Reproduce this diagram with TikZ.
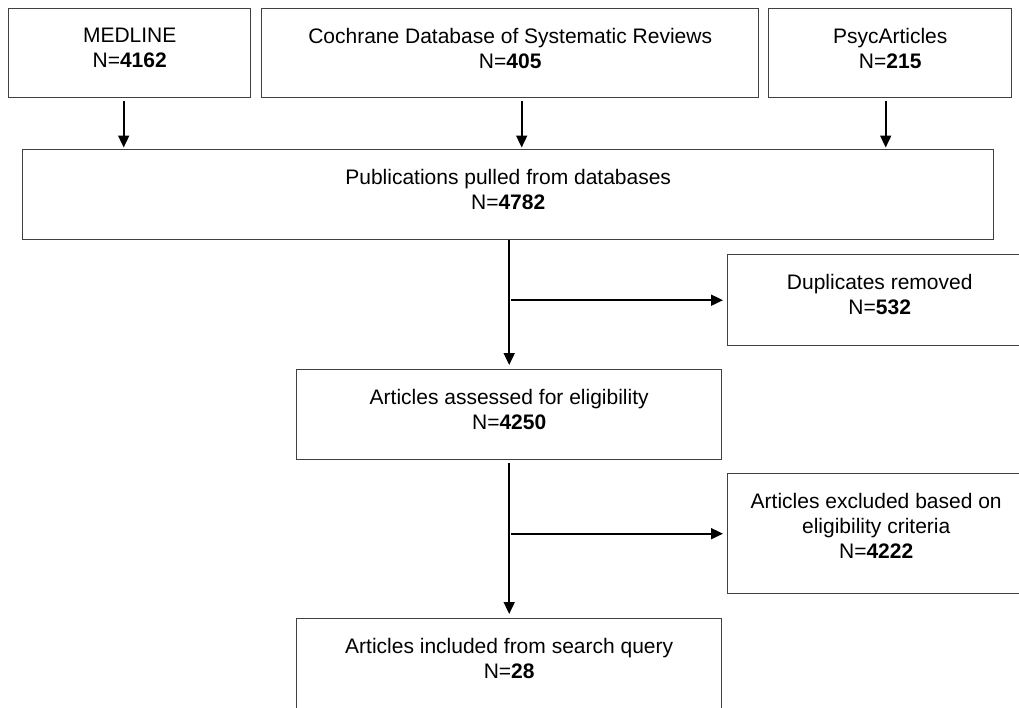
\documentclass[tikz,border=0pt]{standalone}
\usepackage{fontspec}
\setmainfont{Liberation Sans}
\usetikzlibrary{arrows.meta}
\begin{document}
\begin{tikzpicture}[x=1pt,y=-1pt,
  box/.style={draw=black!75, line width=1.4pt, rectangle, inner sep=0pt, anchor=north west},
  lbl/.style={font=\fontsize{21}{25}\selectfont, align=center, inner sep=0pt, anchor=north},
  arr/.style={draw=black, line width=1.8pt, -{Triangle[length=12pt,width=11pt]}}]
\useasboundingbox (0,0) rectangle (1019,707);
\fill[white] (0,0) rectangle (1019,707);
\clip (0,0) rectangle (1019,707);
% boxes
\node[box, minimum width=242pt, minimum height=89pt] (medline) at (8,8) {};
\node[box, minimum width=497pt, minimum height=89pt] (cochrane) at (261,8) {};
\node[box, minimum width=243pt, minimum height=89pt] (psyc) at (768,8) {};
\node[box, minimum width=971pt, minimum height=90pt] (pub) at (22,149) {};
\node[box, minimum width=304pt, minimum height=91pt] (dup) at (727,254) {};
\node[box, minimum width=425pt, minimum height=90pt] (assess) at (296,369) {};
\node[box, minimum width=297pt, minimum height=120pt] (excl) at (727,473) {};
\node[box, minimum width=425pt, minimum height=110pt] (incl) at (296,618) {};
% texts
\node[lbl] (medlineT) at ([yshift=-20pt]medline.north) {MEDLINE\\N=\textbf{4162}};
\node[lbl] (cochraneT) at ([yshift=-20pt]cochrane.north) {Cochrane Database of Systematic Reviews\\N=\textbf{405}};
\node[lbl] (psycT) at ([yshift=-20pt]psyc.north) {PsycArticles\\N=\textbf{215}};
\node[lbl] (pubT) at ([yshift=-20pt]pub.north) {Publications pulled from databases\\N=\textbf{4782}};
\node[lbl] (dupT) at ([yshift=-20pt]dup.north) {Duplicates removed\\N=\textbf{532}};
\node[lbl] (assessT) at ([yshift=-20pt]assess.north) {Articles assessed for eligibility\\N=\textbf{4250}};
\node[lbl] (exclT) at ([yshift=-20pt]excl.north) {Articles excluded based on\\eligibility criteria\\N=\textbf{4222}};
\node[lbl] (inclT) at ([yshift=-20pt]incl.north) {Articles included from search query\\N=\textbf{28}};
% arrows
\coordinate (m1) at ([xshift=-6pt,yshift=-3pt]medline.south);
\coordinate (c1) at ([xshift=11.5pt,yshift=-3pt]cochrane.south);
\coordinate (p1) at ([xshift=-4.5pt,yshift=-3pt]psyc.south);
\draw[arr, shorten >=1.5pt] (m1) -- (m1 |- pub.north);
\draw[arr, shorten >=1.5pt] (c1) -- (c1 |- pub.north);
\draw[arr, shorten >=1.5pt] (p1) -- (p1 |- pub.north);
\draw[arr, shorten >=4pt] (assess.north |- pub.south) -- (assess.north);
\draw[arr, shorten <=2pt, shorten >=4pt] (dup.west -| assess.north) -- (dup.west);
\draw[arr, shorten <=3pt, shorten >=4pt] (assess.south) -- (incl.north);
\draw[arr, shorten <=2pt, shorten >=4pt] (excl.west -| assess.north) -- (excl.west);
\end{tikzpicture}
\end{document}
